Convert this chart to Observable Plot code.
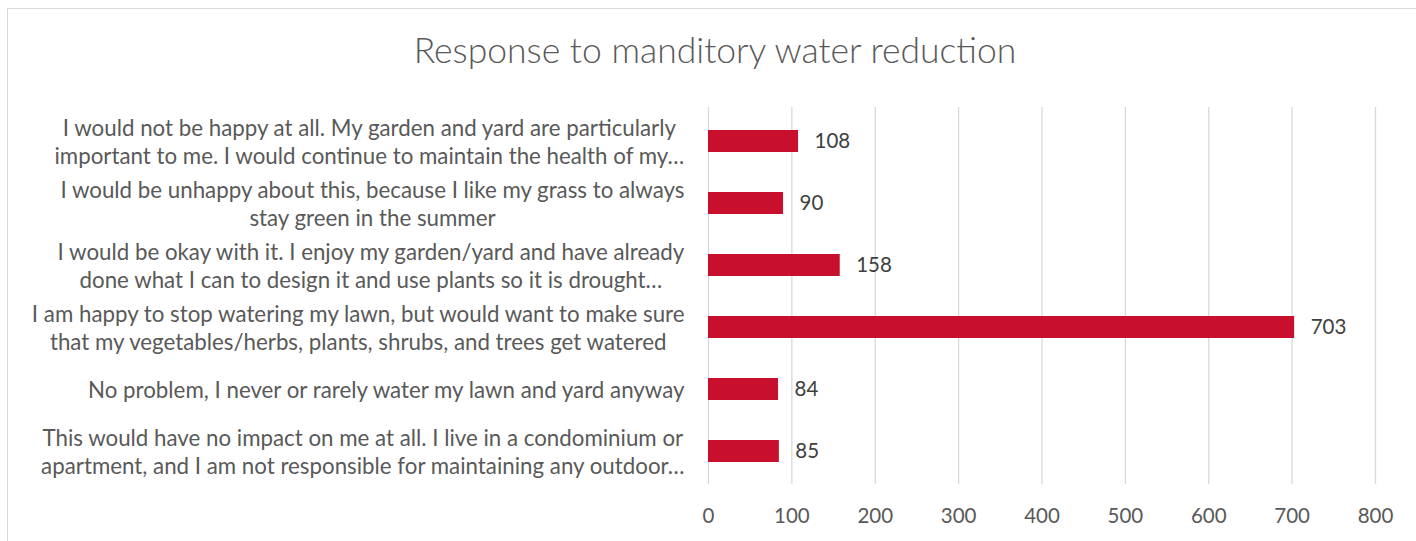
<!DOCTYPE html>
<html>
<head>
<meta charset="utf-8">
<script src="https://cdn.jsdelivr.net/npm/d3@7"></script>
<script src="https://cdn.jsdelivr.net/npm/@observablehq/plot@0.6"></script>
<style>
  body { margin: 0; background: #fff; }
  #wrap { position: relative; width: 1416px; height: 541px; overflow: hidden; font-family: Lato, "Open Sans", sans-serif; }
  #frame { position: absolute; left: 7px; top: 8px; width: 1430px; height: 560px; border: 1.5px solid #d9d9d9; box-sizing: border-box; }
  #title { position: absolute; left: 0; top: 32px; width: 1430px; text-align: center; font-size: 35.5px; font-weight: 300; line-height: 1; color: #595959; }
  #chart { position: absolute; left: 0; top: 90px; }
</style>
</head>
<body>
<div id="wrap">
  <div id="frame"></div>
  <div id="title">Response to manditory water reduction</div>
  <div id="chart"></div>
</div>
<script>
const categories = [
  "I would not be happy at all. My garden and yard are particularly\nimportant to me. I would continue to maintain the health of my…",
  "I would be unhappy about this, because I like my grass to always\nstay green in the summer",
  "I would be okay with it. I enjoy my garden/yard and have already\ndone what I can to design it and use plants so it is drought…",
  "I am happy to stop watering my lawn, but would want to make sure\nthat my vegetables/herbs, plants, shrubs, and trees get watered",
  "No problem, I never or rarely water my lawn and yard anyway",
  "This would have no impact on me at all. I live in a condominium or\napartment, and I am not responsible for maintaining any outdoor…"
];
const values = [108, 90, 158, 703, 84, 85];
const xTicks = [0, 100, 200, 300, 400, 500, 600, 700, 800];

const data = categories.map((c, i) => ({category: c, value: values[i]}));

const chart = Plot.plot({
  width: 1416,
  height: 451,
  marginTop: 17,
  marginBottom: 57,
  marginLeft: 708,
  marginRight: 41,
  style: {fontFamily: "Lato, 'Open Sans', sans-serif", background: "transparent"},
  x: {domain: [0, 800]},
  y: {domain: categories, paddingInner: 0.65, paddingOuter: 0.325},
  marks: [
    Plot.ruleX(xTicks, {stroke: "#d9d9d9", strokeWidth: 1.3}),
    Plot.barX(data, {x: "value", y: "category", fill: "#C8102E"}),
    Plot.text(data, {x: "value", y: "category", text: d => String(d.value), dx: 16, textAnchor: "start", fontSize: 20.5, fill: "#404040"}),
    Plot.text(data, {y: "category", text: "category", frameAnchor: "left", dx: -24, textAnchor: "end", fontSize: 22.3, lineHeight: 1.255, fill: "#595959"}),
    Plot.axisX(xTicks, {tickSize: 0, tickPadding: 24, fontSize: 20.5, color: "#595959", label: null}),
    Plot.axisY({ticks: [], label: null, tickSize: 0})
  ]
});
document.getElementById("chart").appendChild(chart);

// center lines within each label block whose widest line stays right-aligned
d3.select(chart).selectAll("text").filter(function() {
  return this.querySelector("tspan") !== null;
}).each(function() {
  const w = this.getBBox().width;
  const t = this.getAttribute("transform") || "";
  this.setAttribute("text-anchor", "middle");
  this.style.textAnchor = "middle";
  this.setAttribute("transform", t + ` translate(${-w / 2},0)`);
});
</script>
</body>
</html>
